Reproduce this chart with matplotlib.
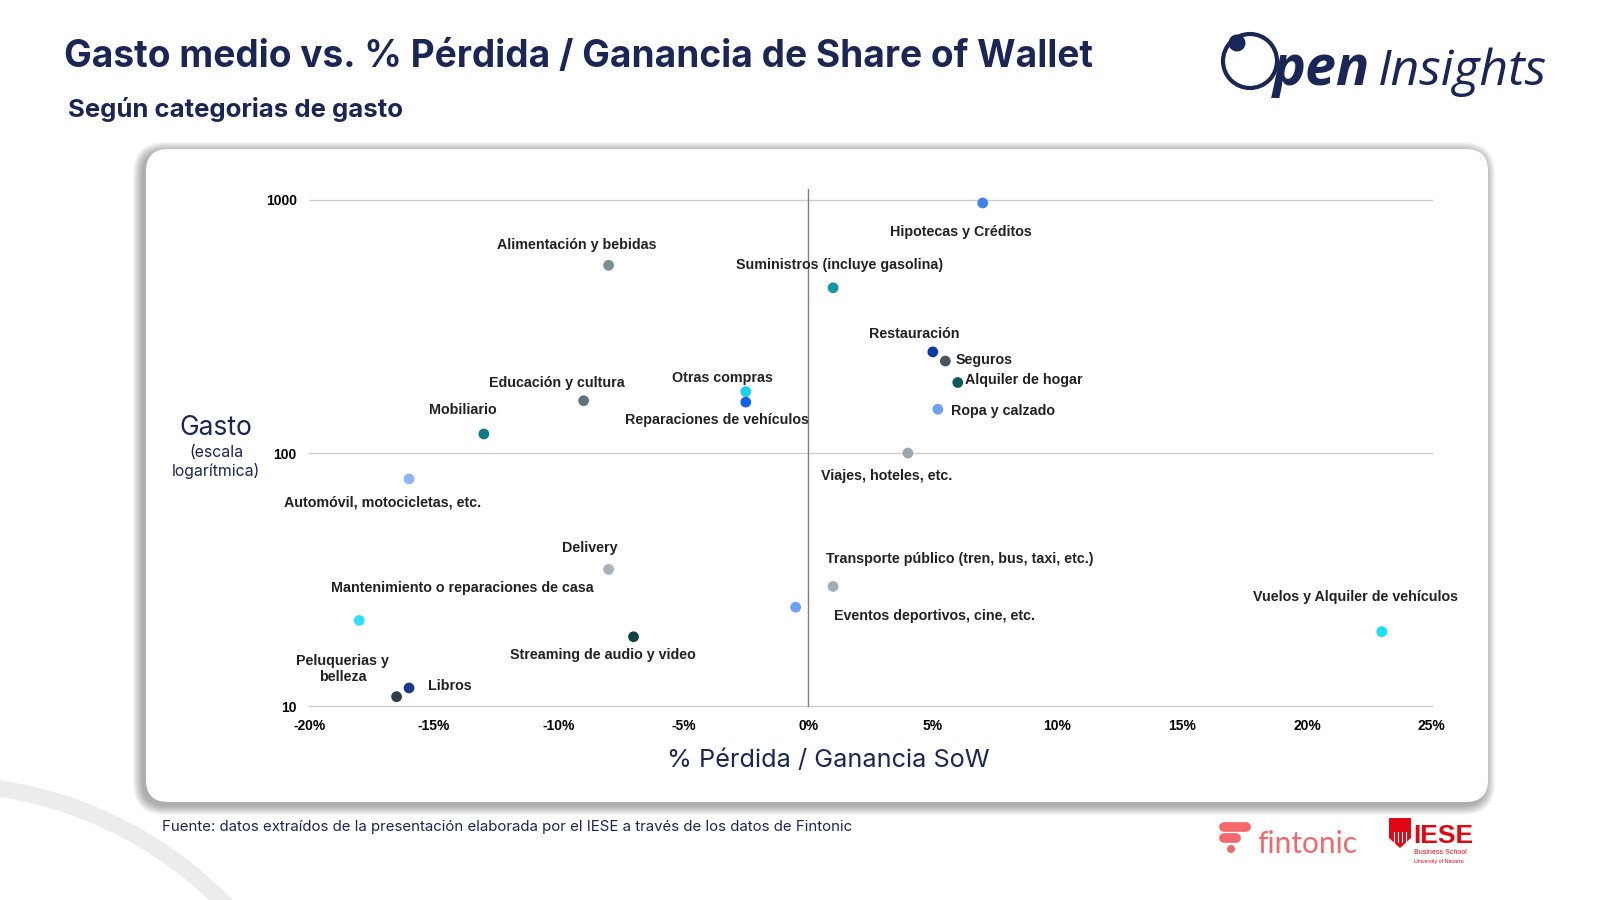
import numpy as np
import matplotlib
matplotlib.use('Agg')
import matplotlib.pyplot as plt
from matplotlib.patches import FancyBboxPatch, Circle, Arc, Polygon
from matplotlib.ticker import FixedLocator, NullLocator

# ---------------- data ----------------
categorias = ['Hipotecas y Créditos', 'Alimentación y bebidas', 'Suministros (incluye gasolina)',
              'Restauración', 'Seguros', 'Alquiler de hogar', 'Ropa y calzado',
              'Viajes, hoteles, etc.', 'Otras compras', 'Reparaciones de vehículos',
              'Educación y cultura', 'Mobiliario', 'Automóvil, motocicletas, etc.',
              'Delivery', 'Transporte público (tren, bus, taxi, etc.)',
              'Eventos deportivos, cine, etc.', 'Mantenimiento o reparaciones de casa',
              'Streaming de audio y video', 'Vuelos y Alquiler de vehículos',
              'Libros', 'Peluquerias y\nbelleza']
sow = [7.0, -8.0, 1.0, 5.0, 5.5, 6.0, 5.2, 4.0, -2.5, -2.5, -9.0, -13.0, -16.0,
       -8.0, 1.0, -0.5, -18.0, -7.0, 23.0, -16.0, -16.5]
gasto = [973, 552, 450, 251, 231, 190, 149, 100, 175, 159, 161, 119, 79,
         34.7, 29.7, 24.6, 21.8, 18.8, 19.7, 11.8, 10.9]
colores = ['#3f83e9', '#7a8f99', '#11999e', '#0b3aa6', '#47555f', '#0d5c5a', '#6ea0f0',
           '#9aa6ab', '#19d0ef', '#0f63e8', '#5f7480', '#0b7b85', '#90b5f6',
           '#a8b3ba', '#9fadb6', '#6ba1f2', '#2ee0f7', '#0c4644', '#14e2f7',
           '#183a8c', '#2f3d46']
x_ticks = [-20, -15, -10, -5, 0, 5, 10, 15, 20, 25]
y_ticks = [10, 100, 1000]

# label placement: offset from point in screen px (right, down) and alignment
label_pos = [(-21, 28, 'center'), (-31, -20, 'center'), (6, -22, 'center'),
             (-18, -18, 'center'), (10, -1, 'left'), (7, -2, 'left'), (13, 2, 'left'),
             (-21, 22, 'center'), (-23, -13, 'center'), (-28, 18, 'center'),
             (-26, -17, 'center'), (-21, -23, 'center'), (-26, 23, 'center'),
             (-18, -21, 'center'), (-7, -27, 'left'), (38, 9, 'left'),
             (101, -32, 'center'), (-30, 18, 'center'), (-26, -34, 'center'),
             (19, -2, 'left'), (-53, -27, 'center')]

navy = '#1a2656'
font_ui = ['Inter', 'DejaVu Sans']
font_lbl = ['Liberation Sans', 'DejaVu Sans']
font_logo = ['Open Sans', 'DejaVu Sans']

fig = plt.figure(figsize=(16, 9), dpi=100)
fig.patch.set_facecolor('white')

# background layer in pixel coords
bg = fig.add_axes([0, 0, 1, 1], zorder=0)
bg.set_xlim(0, 1600)
bg.set_ylim(900, 0)
bg.axis('off')

bg.add_patch(Arc((-60, 1182), 2 * 398, 2 * 398, theta1=180, theta2=360,
                 color='#ececec', lw=12))

# panel shadow + panel
for i in range(10, 0, -1):
    bg.add_patch(FancyBboxPatch((146 - 3 - i, 149 - i + 3), 1342 + 2 * i, 653 + 2 * i,
                                boxstyle='round,pad=0,rounding_size=%d' % (22 + i),
                                fc='#000000', ec='none', alpha=0.035))
bg.add_patch(FancyBboxPatch((146, 149), 1342, 653, boxstyle='round,pad=0,rounding_size=22',
                            fc='white', ec='none'))

# titles
bg.text(64, 57, 'Gasto medio vs. % Pérdida / Ganancia de Share of Wallet', fontsize=26.7,
        fontweight='bold', color=navy, family=font_ui, va='center', ha='left')
bg.text(68, 110, 'Según categorias de gasto', fontsize=18.5, fontweight='bold', color=navy,
        family=font_ui, va='center', ha='left')

# OpenInsights logo
bg.add_patch(Circle((1250, 61), 27, fc='none', ec=navy, lw=3))
bg.add_patch(Circle((1237, 43), 8.5, fc=navy, ec='none'))
bg.text(1273, 85, 'pen', fontsize=40, fontweight='bold', style='italic', color=navy,
        family=font_logo, va='baseline', ha='left')
bg.text(1378, 85, 'Insights', fontsize=36, fontweight='normal', style='italic', color=navy,
        family=font_logo, va='baseline', ha='left')

# source
bg.text(162, 827, 'Fuente: datos extraídos de la presentación elaborada por el IESE a través de los datos de Fintonic',
        fontsize=10.8, color=navy, family=font_ui, va='center', ha='left')

# fintonic logo
coral = '#f4676b'
bg.plot([1224, 1246], [827, 827], color=coral, lw=7, solid_capstyle='round')
bg.plot([1224, 1236], [838, 838], color=coral, lw=7, solid_capstyle='round')
bg.add_patch(Circle((1231, 849), 4, fc=coral, ec='none'))
bg.text(1257, 853, 'fintonic', fontsize=21.5, color=coral, family=['Lato', 'DejaVu Sans'],
        va='baseline', ha='left')

# IESE logo
red = '#e30613'
bg.add_patch(Polygon([[1389, 818], [1411, 818], [1411, 838], [1400, 848], [1389, 838]],
                     closed=True, fc=red, ec='none'))
for xs in [1394, 1398, 1402, 1406]:
    bg.plot([xs, xs], [832, 842], color='white', lw=0.8)
bg.text(1413, 843, 'IESE', fontsize=19, fontweight='bold', color=red,
        family=font_lbl, va='baseline', ha='left')
bg.text(1414, 853, 'Business School', fontsize=5, color=red, family=font_lbl,
        va='center', ha='left')
bg.text(1414, 861, 'University of Navarra', fontsize=3.8, color=red, family=font_lbl,
        va='center', ha='left')

# axis titles
bg.text(828, 761, '% Pérdida / Ganancia SoW', fontsize=18.2, color=navy, family=font_ui,
        va='center', ha='center')
bg.text(216, 428, 'Gasto', fontsize=19, color=navy, family=font_ui, va='center', ha='center')
bg.text(216, 462, '(escala\nlogarítmica)', fontsize=11.4, color=navy, family=font_ui,
        va='center', ha='center', linespacing=1.2)

# ---------------- chart ----------------
ax = fig.add_axes([0.1933, 0.2154, 0.7015, 0.5624], zorder=2)
ax.set_facecolor('none')
ax.set_yscale('log')
ax.set_xlim(-20, 25)
ax.set_ylim(10, 1000)
for s in ax.spines.values():
    s.set_visible(False)
for v in y_ticks:
    ax.axhline(v, color='#cfcfcf', lw=1, zorder=1, clip_on=False)
ax.plot([0, 0], [10, 1105], color='#808080', lw=1, zorder=1, clip_on=False)

ax.xaxis.set_major_locator(FixedLocator(x_ticks))
ax.set_xticklabels([f'{v}%' for v in x_ticks])
ax.yaxis.set_major_locator(FixedLocator(y_ticks))
ax.yaxis.set_minor_locator(NullLocator())
ax.set_yticklabels([str(v) for v in y_ticks])
ax.tick_params(length=0, labelsize=10, pad=9)
for t in ax.get_xticklabels() + ax.get_yticklabels():
    t.set_fontweight('bold')
    t.set_family(font_lbl)

ax.scatter(sow, gasto, s=60, c=colores, zorder=3, clip_on=False, linewidths=0)

k = 1.0204 * 0.72
for name, x, y, (dx, dy, ha) in zip(categorias, sow, gasto, label_pos):
    ax.annotate(name, (x, y), xytext=(dx * k, -dy * k), textcoords='offset points',
                ha=ha, va='center', fontsize=10.3, fontweight='bold', color='#222222',
                family=font_lbl, multialignment='center', linespacing=1.15,
                annotation_clip=False)

fig.savefig('out.png', dpi=100)
